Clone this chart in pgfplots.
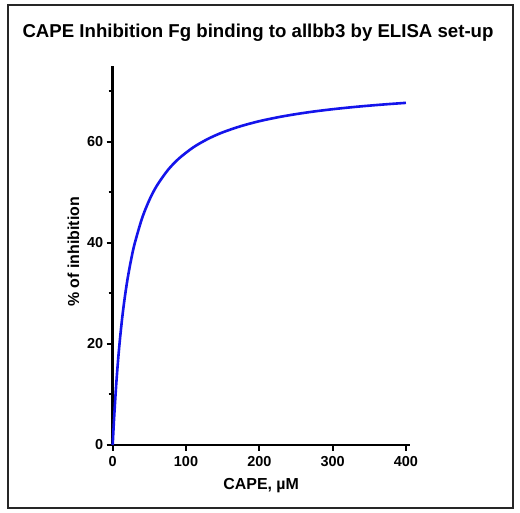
\documentclass[border=0pt]{standalone}
\usepackage{fontspec}
\setmainfont{Liberation Sans}
\usepackage{pgfplots}
\pgfplotsset{compat=1.18}
\begin{document}
\begin{tikzpicture}[x=1bp,y=1bp]
\path[fill=white] (0,0) rectangle (520,513);
\draw[line width=1.8bp, black!85] (8,5) rectangle (513,508);
\node[font=\fontsize{18.7}{21}\selectfont\bfseries, anchor=center] at (258,480) {CAPE Inhibition Fg binding to allbb3 by ELISA set-up};
\begin{axis}[
  at={(112.7bp,68bp)}, anchor=origin,
  scale only axis, width=296.9bp, height=378.8bp,
  xmin=0, xmax=405, ymin=0, ymax=75,
  axis x line=bottom, axis y line=left,
  axis line style={-, line width=2.5bp, black},
  xtick={0,100,200,300,400}, ytick={0,20,40,60},
  minor ytick={10,30,50,70},
  tick align=outside,
  major tick length=6bp, minor tick length=4bp,
  every tick/.style={line width=2bp, black},
  /pgf/number format/assume math mode=true,
  tick label style={font=\fontsize{14.5}{16}\selectfont\bfseries},
  xticklabel style={yshift=-2bp},
  xlabel={CAPE, µM},
  ylabel={\% of inhibition},
  label style={font=\fontsize{16}{18}\selectfont\bfseries},
  xlabel style={at={(axis description cs:0.5,0)}, anchor=center, yshift=-41bp},
  ylabel style={at={(axis description cs:-0.132,0.51)}, anchor=center},
  clip=false,
]
\addplot[line width=2.6bp, color={rgb,255:red,20;green,20;blue,235}, smooth] coordinates {
(0,0) (1,2.87) (2,5.52) (4,10.26) (6,14.36) (8,17.95) (10,21.12) (13,25.23)
(16,28.72) (20,32.64) (25,36.63) (30,39.89) (40,44.88) (50,48.51) (60,51.29)
(75,54.39) (90,56.68) (110,58.94) (130,60.61) (150,61.90) (175,63.14)
(200,64.11) (225,64.88) (250,65.51) (275,66.04) (300,66.48) (325,66.86)
(350,67.19) (375,67.48) (400,67.74)
};
\end{axis}
\end{tikzpicture}
\end{document}
